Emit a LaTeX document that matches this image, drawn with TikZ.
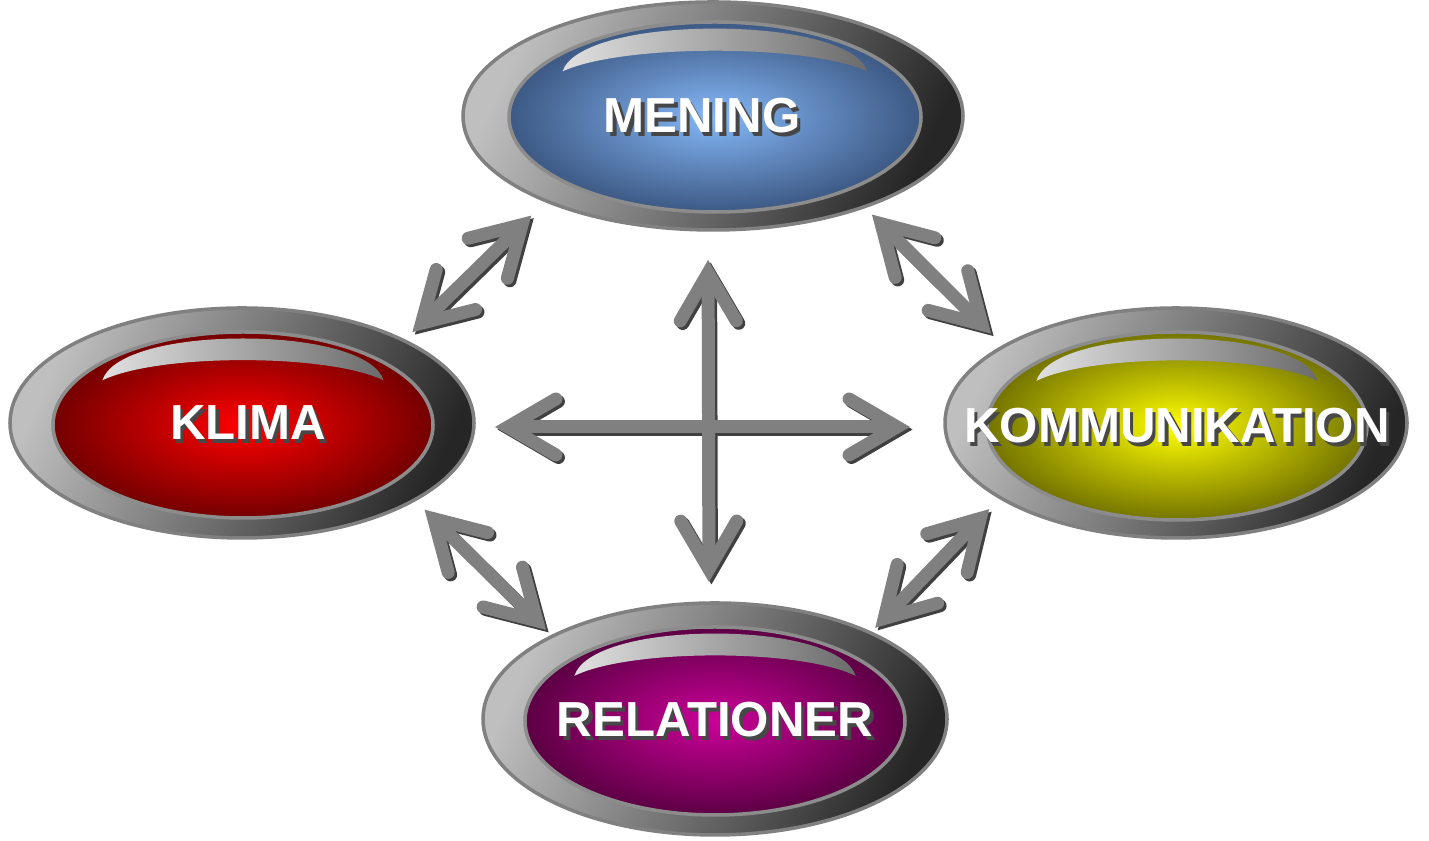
\documentclass[tikz,border=0pt]{standalone}
\usepackage{fontspec}
\setmainfont{Liberation Sans}
\usetikzlibrary{shapes.geometric,arrows.meta}

\definecolor{blaljus}{HTML}{85B8F8}
\definecolor{blamork}{HTML}{3D5984}
\definecolor{rodljus}{HTML}{FF0000}
\definecolor{rodmork}{HTML}{740000}
\definecolor{gulljus}{HTML}{FFFF00}
\definecolor{gulmork}{HTML}{747400}
\definecolor{lilaljus}{HTML}{CC0099}
\definecolor{lilamork}{HTML}{5C0044}

\tikzset{
	ring/.style={ellipse, draw=black!50, line width=1pt, inner sep=0pt, outer sep=0pt,
		top color=black!25, bottom color=black!85, shading angle=65},
	kula/.style={ellipse, draw=black!45, line width=1pt, inner sep=0pt, outer sep=0pt},
	glansfyll/.style={left color=black!12, right color=black!58},
	glans/.pic={
		\path[glansfyll] (-0.74,0.48) .. controls (-0.70,0.75) and (-0.40,0.93) .. (0,0.93)
			.. controls (0.40,0.93) and (0.70,0.75) .. (0.74,0.48)
			.. controls (0.45,0.77) and (-0.45,0.77) .. cycle;
	},
	etikett/.style={text=white, font=\bfseries\fontsize{14}{16}\selectfont},
	skugga/.style={etikett, text=black!72},
	pil/.style={draw=black!50, line width=0.13cm,
		>={Straight Barb[length=0.48cm,width=0.56cm,line cap=round]}, <->},
	pilskugga/.style={pil, draw=black!75, transform canvas={shift={(0.025,-0.025)}}},
}

\begin{document}
\begin{tikzpicture}
	\useasboundingbox (0,0) rectangle (14.29,8.41);

	%MENING
	\node[ring, minimum width=5.00cm, minimum height=2.28cm] (mening) at (7.13,7.25) {};
	\node[kula, inner color=blaljus, outer color=blamork, minimum width=4.12cm, minimum height=1.90cm] (mening-in) at (7.15,7.24) {};
	\pic[xscale=2.06, yscale=0.95] at (mening-in) {glans};
	\node[skugga] at ([shift={(-0.075,-0.035)}]mening.center) {MENING};
	\node[etikett] (mening-txt) at ([xshift=-0.11cm]mening.center) {MENING};

	%KLIMA
	\node[ring, minimum width=4.64cm, minimum height=2.30cm] (klima) at (2.42,4.18) {};
	\node[kula, inner color=rodljus, outer color=rodmork, minimum width=3.80cm, minimum height=1.86cm] (klima-in) at (2.43,4.16) {};
	\pic[xscale=1.90, yscale=0.93] at (klima-in) {glans};
	\node[skugga] at ([shift={(0.095,-0.035)}]klima.center) {KLIMA};
	\node[etikett] (klima-txt) at ([xshift=0.06cm]klima.center) {KLIMA};

	%KOMMUNIKATION
	\node[ring, minimum width=4.62cm, minimum height=2.30cm] (komm) at (11.76,4.18) {};
	\node[kula, inner color=gulljus, outer color=gulmork, minimum width=3.80cm, minimum height=1.88cm] (komm-in) at (11.77,4.15) {};
	\pic[xscale=1.90, yscale=0.94] at (komm-in) {glans};
	\node[skugga] at ([shift={(0.045,-0.065)}]komm.center) {KOMMUNIKATION};
	\node[etikett] (komm-txt) at ([shift={(0.01,-0.03)}]komm.center) {KOMMUNIKATION};

	%RELATIONER
	\node[ring, minimum width=4.64cm, minimum height=2.32cm] (relationer) at (7.15,1.22) {};
	\node[kula, inner color=lilaljus, outer color=lilamork, minimum width=3.80cm, minimum height=1.88cm] (relationer-in) at (7.15,1.20) {};
	\pic[xscale=1.90, yscale=0.94] at (relationer-in) {glans};
	\node[skugga] at ([shift={(0.035,-0.045)}]relationer.center) {RELATIONER};
	\node[etikett] (relationer-txt) at ([yshift=-0.01cm]relationer.center) {RELATIONER};

	%arrows, shadow first
	\foreach \stil in {pilskugga, pil}{
		\draw[\stil, shorten <=0.12cm, shorten >=0.21cm] (klima.27) -- (mening.207); %klima-mening
		\draw[\stil, shorten <=0.11cm, shorten >=0.18cm] (mening.-31) -- (komm.156); %mening-komm
		\draw[\stil, shorten <=0.14cm, shorten >=0.09cm] (klima.-24) -- (relationer.153); %klima-relationer
		\draw[\stil, shorten <=0.16cm, shorten >=0.07cm] (komm.203) -- (relationer.29); %komm-relationer
		\draw[\stil, shorten <=0.30cm, shorten >=0.21cm] ([xshift=-0.05cm]mening.south) -- ([xshift=-0.06cm]relationer.north); %vertical
		\draw[\stil, shorten <=0.21cm, shorten >=0.35cm] ([yshift=-0.04cm]klima.east) -- ([yshift=-0.04cm]komm.west); %horizontal
	}
\end{tikzpicture}
\end{document}
